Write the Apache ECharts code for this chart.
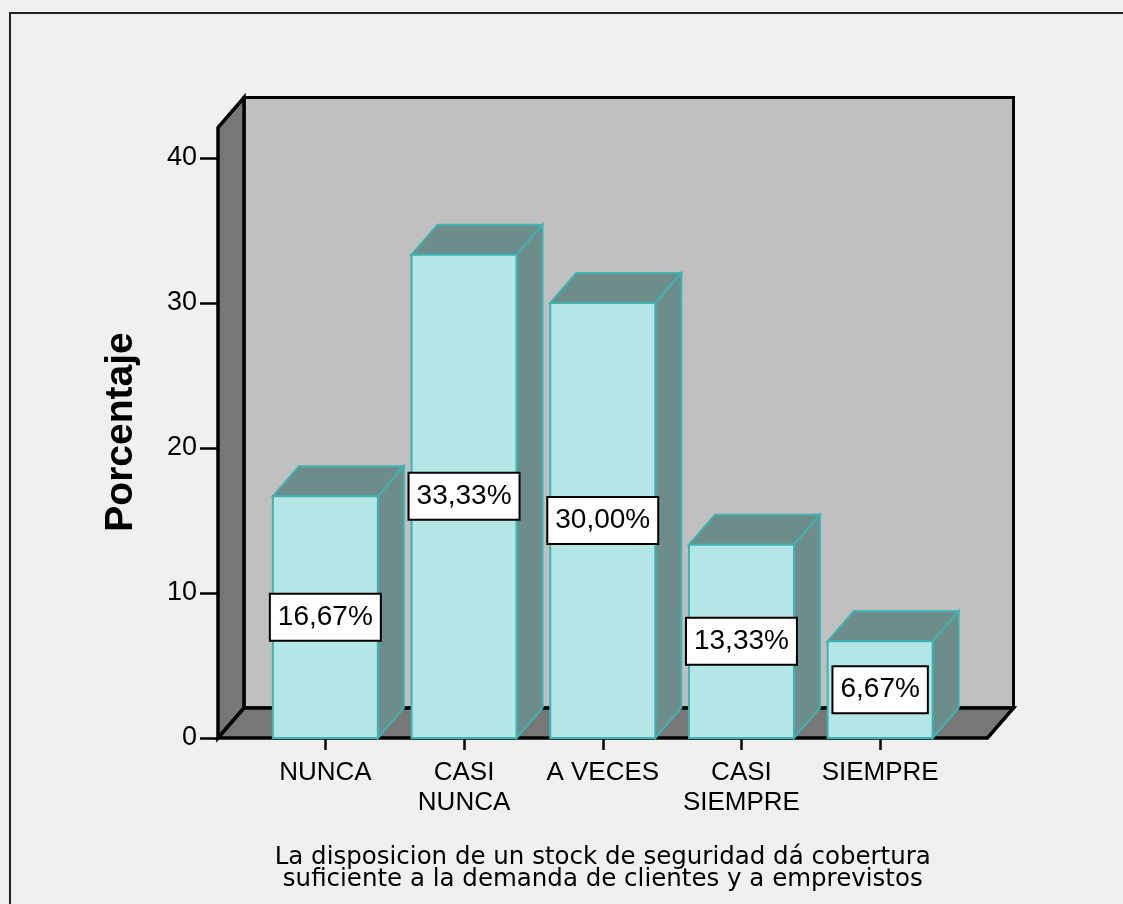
<!DOCTYPE html>
<html>
<head>
<meta charset="utf-8">
<script src="https://cdn.jsdelivr.net/npm/echarts@6/dist/echarts.min.js"></script>
<style>
  html, body { margin: 0; padding: 0; background: #f0f0f0; }
  #chart { width: 1123px; height: 904px; }
</style>
</head>
<body>
<div id="chart"></div>
<script>
var categories = ['NUNCA', 'CASI\nNUNCA', 'A VECES', 'CASI\nSIEMPRE', 'SIEMPRE'];
var percentages = [16.67, 33.33, 30.00, 13.33, 6.67];
var yTicks = [0, 10, 20, 30, 40];
var xTitle = 'La disposicion de un stock de seguridad dá cobertura\nsuficiente a la demanda de clientes y a emprevistos';
var yTitle = 'Porcentaje';

// 3d look
var DEPTH_X = 26, DEPTH_Y = 30;
var WALL_PAD = 38;      // floor sticks out of the category band on both sides
var WALL_TOP = 42.1;    // back wall height in axis units
var BAR_RATIO = 0.757;

var chart = echarts.init(document.getElementById('chart'));

function fmt(v) {
  return v.toFixed(2).replace('.', ',') + '%';
}

function renderWalls(params, api) {
  var band = api.size([1, 0])[0];
  var p0 = api.coord([0, 0]);
  var pN = api.coord([categories.length - 1, 0]);
  var xl = p0[0] - band / 2 - WALL_PAD;
  var xr = pN[0] + band / 2 + WALL_PAD;
  var yb = p0[1];
  var yt = api.coord([0, WALL_TOP])[1];
  var edge = { stroke: '#000', lineWidth: 3, lineJoin: 'miter' };
  return {
    type: 'group',
    children: [
      { // back wall
        type: 'polygon',
        shape: { points: [[xl + DEPTH_X, yt - DEPTH_Y], [xr + DEPTH_X, yt - DEPTH_Y], [xr + DEPTH_X, yb - DEPTH_Y], [xl + DEPTH_X, yb - DEPTH_Y]] },
        style: Object.assign({ fill: '#c0c0c0' }, edge)
      },
      { // left wall
        type: 'polygon',
        shape: { points: [[xl, yt], [xl + DEPTH_X, yt - DEPTH_Y], [xl + DEPTH_X, yb - DEPTH_Y], [xl, yb]] },
        style: Object.assign({ fill: '#777777' }, edge, { lineWidth: 3.5 })
      },
      { // floor
        type: 'polygon',
        shape: { points: [[xl, yb], [xl + DEPTH_X, yb - DEPTH_Y], [xr + DEPTH_X, yb - DEPTH_Y], [xr, yb]] },
        style: Object.assign({ fill: '#777777' }, edge, { lineWidth: 3.5 })
      }
    ]
  };
}

function renderBar(params, api) {
  var idx = api.value(0);
  var val = api.value(1);
  var top = api.coord([idx, val]);
  var base = api.coord([idx, 0]);
  var w = api.size([1, 0])[0] * BAR_RATIO;
  var xl = top[0] - w / 2, xr = top[0] + w / 2;
  var yt = top[1], yb = base[1];
  var teal = '#3fb2b2';
  return {
    type: 'group',
    children: [
      {
        type: 'polygon',
        shape: { points: [[xl, yt], [xl + DEPTH_X, yt - DEPTH_Y], [xr + DEPTH_X, yt - DEPTH_Y], [xr, yt]] },
        style: { fill: '#6e8c8a', stroke: teal, lineWidth: 2 }
      },
      {
        type: 'polygon',
        shape: { points: [[xr, yt], [xr + DEPTH_X, yt - DEPTH_Y], [xr + DEPTH_X, yb - DEPTH_Y], [xr, yb]] },
        style: { fill: '#6e8c8a', stroke: teal, lineWidth: 2 }
      },
      {
        type: 'rect',
        shape: { x: xl, y: yt, width: w, height: yb - yt },
        style: { fill: '#b4e6e6', stroke: teal, lineWidth: 2 }
      },
      {
        type: 'text',
        x: top[0],
        y: (yt + yb) / 2,
        style: {
          text: fmt(val),
          fill: '#000',
          font: '28px "Liberation Sans", Arial, sans-serif',
          align: 'center',
          verticalAlign: 'middle',
          backgroundColor: '#fff',
          borderColor: '#000',
          borderWidth: 2,
          padding: [9, 7, 8, 7]
        }
      }
    ]
  };
}

var option = {
  backgroundColor: '#f0f0f0',
  animation: false,
  graphic: [
    {
      type: 'rect',
      shape: { x: 10, y: 13, width: 1300, height: 1000 },
      style: { fill: 'none', stroke: '#222', lineWidth: 2 },
      z: 0
    },
    {
      type: 'text',
      x: 121,
      y: 432,
      rotation: Math.PI / 2,
      style: {
        text: yTitle,
        fill: '#000',
        font: 'bold 39px "Liberation Sans", Arial, sans-serif',
        align: 'center',
        verticalAlign: 'middle'
      }
    }
  ],
  grid: {
    left: 256,
    right: 173.5,
    top: 158,
    bottom: 166
  },
  xAxis: {
    type: 'category',
    data: categories,
    axisLine: { show: false },
    axisTick: { show: true, alignWithLabel: true, length: 12, lineStyle: { color: '#000', width: 2.5 } },
    axisLabel: {
      interval: 0,
      color: '#000',
      fontFamily: 'Liberation Sans',
      fontSize: 26,
      lineHeight: 30,
      margin: 20
    },
    name: xTitle,
    nameLocation: 'middle',
    nameGap: 108.5,
    nameTextStyle: {
      color: '#000',
      fontFamily: 'DejaVu Sans',
      fontSize: 24.5,
      lineHeight: 22
    }
  },
  yAxis: {
    type: 'value',
    min: yTicks[0],
    max: yTicks[yTicks.length - 1],
    interval: 10,
    offset: WALL_PAD,
    splitLine: { show: false },
    axisLine: { show: false },
    axisTick: { show: true, length: 18, lineStyle: { color: '#000', width: 2.5 } },
    axisLabel: {
      color: '#000',
      fontFamily: 'Liberation Sans',
      fontSize: 27,
      margin: 21
    }
  },
  series: [
    {
      type: 'custom',
      z: 1,
      silent: true,
      renderItem: renderWalls,
      data: [[0, 0]]
    },
    {
      type: 'custom',
      z: 2,
      renderItem: renderBar,
      encode: { x: 0, y: 1 },
      data: percentages.map(function (v, i) { return [i, v]; })
    }
  ]
};

chart.setOption(option);
</script>
</body>
</html>
